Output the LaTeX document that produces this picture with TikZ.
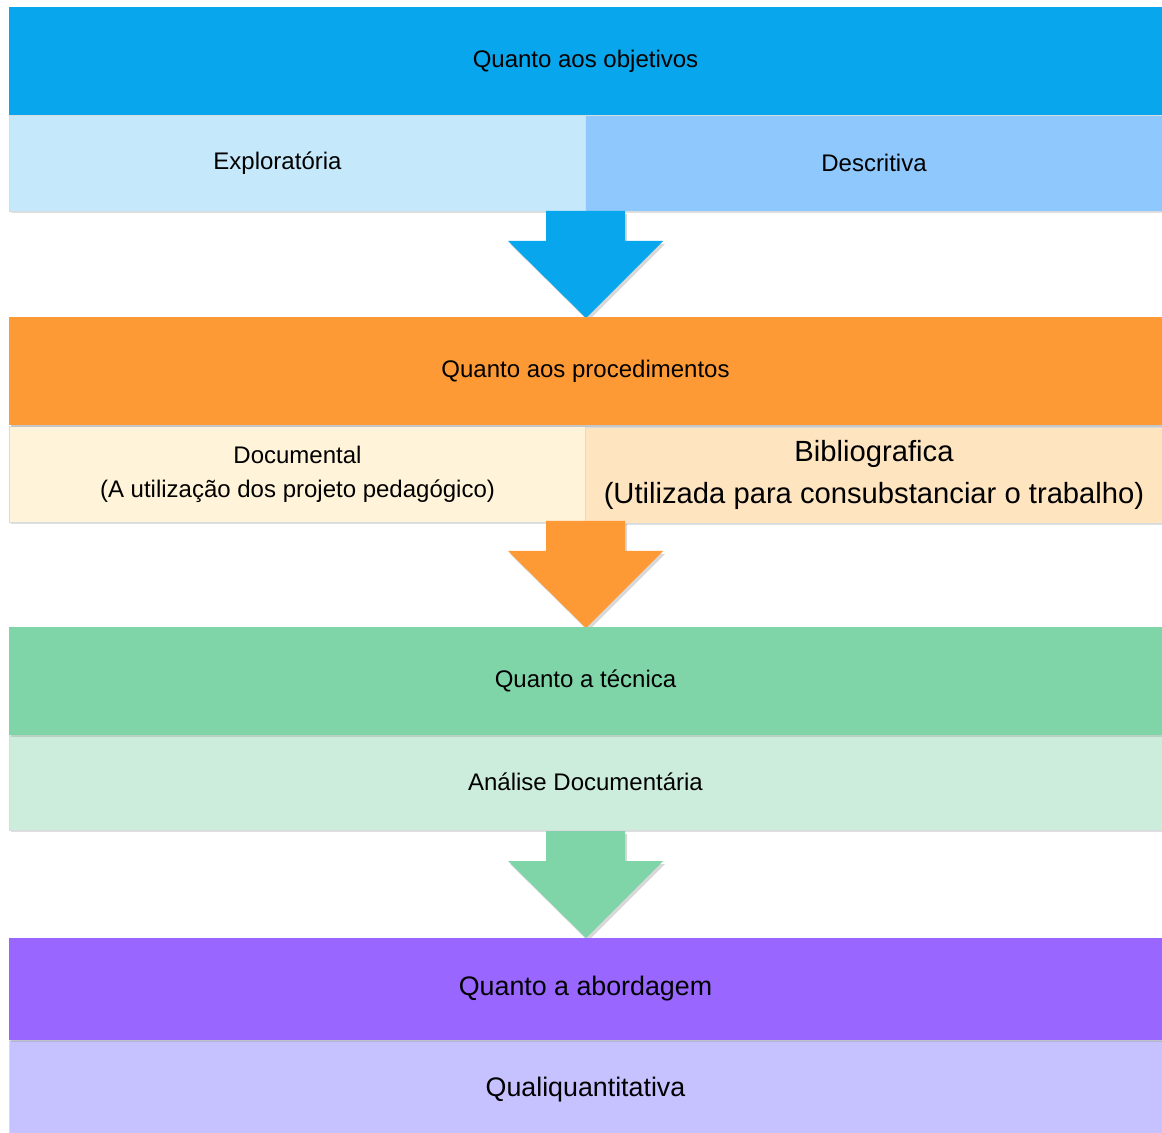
\documentclass[tikz,border=0pt]{standalone}
\usepackage{fontspec}
\setmainfont{Liberation Sans}
\usetikzlibrary{calc,shadows}
\definecolor{hblue}{HTML}{08A6EC}
\definecolor{cexpl}{HTML}{C6E8FB}
\definecolor{cdesc}{HTML}{8EC8FC}
\definecolor{horange}{HTML}{FE9A35}
\definecolor{cdoc}{HTML}{FFF3D9}
\definecolor{cbib}{HTML}{FEE4BF}
\definecolor{hgreen}{HTML}{7FD4A8}
\definecolor{cana}{HTML}{CCEDDC}
\definecolor{hpurple}{HTML}{9966FF}
\definecolor{cqual}{HTML}{C6C1FF}
\definecolor{cellline}{HTML}{D8DCE0}
\begin{document}
\begin{tikzpicture}[x=0.5pt,y=-0.5pt,
  cellbox/.style={rectangle,inner sep=0pt,outer sep=0pt,align=center,text=black,
     font=\fontsize{12}{17}\selectfont,
     drop shadow={opacity=0.25,shadow xshift=0.8pt,shadow yshift=-1.2pt}},
  headbox/.style={cellbox,minimum width=576.5pt,minimum height=54pt},
  rowbox/.style={cellbox,draw=cellline,line width=0.4pt,minimum height=48pt},
  halfbox/.style={rowbox,minimum width=288.5pt},
  fullbox/.style={rowbox,minimum width=576.5pt},
  bigtext/.style={font=\fontsize{13.4}{15}\selectfont},
  blockarrow/.style={drop shadow={opacity=0.3,shadow xshift=1pt,shadow yshift=-1.5pt}}]
\useasboundingbox[fill=white] (0,0) rectangle (1162,1133);

% level 1
\node[headbox,fill=hblue] (h1) at (585.5,61) {\raisebox{-2pt}{Quanto aos objetivos}};
\node[halfbox,fill=cexpl] (r1a) at (297.5,163) {\raisebox{-2pt}{Explorat\'oria\hspace{20pt}}};
\node[halfbox,fill=cdesc] (r1b) at (874,163) {\raisebox{-1pt}{Descritiva}};

% level 2
\node[headbox,fill=horange] (h2) at (585.5,371) {\raisebox{-2pt}{Quanto aos procedimentos}};
\node[halfbox,fill=cdoc] (r2a) at (297.5,474) {Documental\\(A utiliza\c{c}\~ao dos projeto pedag\'ogico)};
\node[halfbox,fill=cbib,font=\fontsize{14.6}{21}\selectfont] (r2b) at (874,475) {Bibliografica\\(Utilizada para consubstanciar o trabalho)};

% level 3
\node[headbox,fill=hgreen] (h3) at (585.5,681) {\raisebox{-1.5pt}{Quanto a t\'ecnica}};
\node[fullbox,fill=cana] (r3) at (585.5,782) {\raisebox{-1pt}{An\'alise Document\'aria}};

% level 4
\node[headbox,fill=hpurple,minimum height=51pt,bigtext] (h4) at (585.5,989) {\raisebox{-2pt}{Quanto a abordagem}};
\node[fullbox,fill=cqual,minimum height=50pt,bigtext] (r4) at (585.5,1090) {\raisebox{-1.5pt}{Qualiquantitativa}};

% arrows
\coordinate (t1) at (586,318);
\coordinate (t2) at (586,628);
\coordinate (t3) at (586,938);
\foreach \t/\c in {t1/hblue,t2/horange,t3/hgreen}{
  \fill[\c,blockarrow] ($(\t)+(-40,-107)$) -- ($(\t)+(39,-107)$) -- ($(\t)+(39,-77)$) -- ($(\t)+(77,-77)$)
     -- (\t) -- ($(\t)+(-78,-77)$) -- ($(\t)+(-40,-77)$) -- cycle;
}
% redraw headers on top of arrow tips
\node[headbox,fill=horange,drop shadow={opacity=0}] at (h2) {\raisebox{-2pt}{Quanto aos procedimentos}};
\node[headbox,fill=hgreen,drop shadow={opacity=0}] at (h3) {\raisebox{-1.5pt}{Quanto a t\'ecnica}};
\node[headbox,fill=hpurple,minimum height=51pt,bigtext,drop shadow={opacity=0}] at (h4) {\raisebox{-2pt}{Quanto a abordagem}};
\end{tikzpicture}
\end{document}
